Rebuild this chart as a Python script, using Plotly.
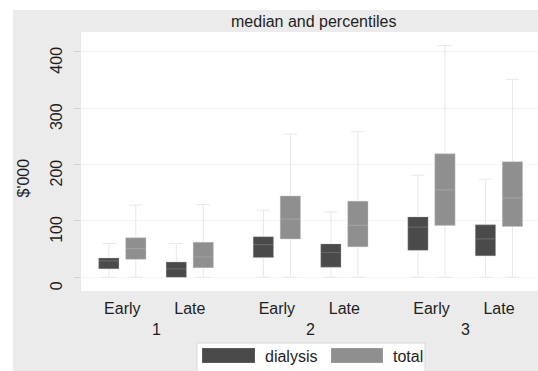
import plotly.graph_objects as go

groups = ["1", "2", "3"]
periods = ["Early", "Late"]
series = ["dialysis", "total"]

# order: 1-Early, 1-Late, 2-Early, 2-Late, 3-Early, 3-Late  ($'000)
dial_low = [0, 0, 0, 0, 0, 0]
dial_q1 = [15, 0, 35, 18, 48, 38]
dial_med = [29, 15, 58, 44, 89, 68]
dial_q3 = [34, 27, 72, 59, 107, 93]
dial_high = [60, 60, 119, 116, 181, 174]

tot_low = [0, 0, 0, 0, 0, 0]
tot_q1 = [32, 17, 68, 54, 92, 90]
tot_med = [51, 36, 103, 92, 155, 141]
tot_q3 = [70, 62, 144, 135, 219, 205]
tot_high = [128, 129, 254, 258, 411, 351]

y_ticks = [0, 100, 200, 300, 400]

DARK = "#4a4a4a"
LIGHT = "#8f8f8f"
WHISK = "#e8e8e8"

GROUP_GAP = 2.29
OFFSET = 0.2
BOXW = 0.3

centers = []
for gi, g in enumerate(groups):
    for pi, p in enumerate(periods):
        centers.append(gi * GROUP_GAP + pi * 1.0)

fig = go.Figure()

def add_series(name, off, low, q1, med, q3, high, fill):
    xs = [c + off for c in centers]
    # whiskers
    fig.add_trace(go.Box(x=xs, q1=q1, median=med, q3=q3, lowerfence=low, upperfence=high,
                         width=BOXW, whiskerwidth=0.65, fillcolor=fill,
                         line=dict(color=WHISK, width=1), showlegend=False,
                         name=name, hoverinfo="skip"))
    # box body
    fig.add_trace(go.Box(x=xs, q1=q1, median=med, q3=q3, lowerfence=q1, upperfence=q3,
                         width=BOXW, whiskerwidth=0, fillcolor=fill,
                         line=dict(color="rgba(255,255,255,0.16)", width=1.2),
                         showlegend=False, name=name))

add_series(series[0], -OFFSET, dial_low, dial_q1, dial_med, dial_q3, dial_high, DARK)
add_series(series[1], OFFSET, tot_low, tot_q1, tot_med, tot_q3, tot_high, LIGHT)

W, H = 538, 371
L, R, T, B = 81, 0, 32, 80
pw, ph = W - L - R, H - T - B

def px(xp):
    return (xp - L) / pw

def py(yp):
    return (H - B - yp) / ph

FONT = "Liberation Sans, Arial, Helvetica, sans-serif"
TXT = dict(size=16, color="#1e1e1e")

def ann(x, y, text, xref="paper", xanchor="center", angle=0):
    return dict(x=x, y=y, xref=xref, yref="paper", text=text, showarrow=False,
                xanchor=xanchor, yanchor="middle", textangle=angle, font=TXT)

annotations = []
for gi, g in enumerate(groups):
    annotations.append(ann(gi * GROUP_GAP + 0.5, py(329), g, xref="x"))
annotations.append(ann(px(23), py(178.5), "$'000", angle=-90))
annotations.append(ann(px(313), py(21), "median and percentiles"))
annotations.append(ann(px(263), py(356), series[0], xanchor="left"))
annotations.append(ann(px(391), py(356), series[1], xanchor="left"))

shapes = [
    dict(type="rect", xref="paper", yref="paper", x0=px(0), x1=px(W), y0=py(0), y1=py(10),
         fillcolor="white", line=dict(width=0), layer="below"),
    dict(type="rect", xref="paper", yref="paper", x0=px(0), x1=px(13), y0=py(0), y1=py(H),
         fillcolor="white", line=dict(width=0), layer="below"),
    dict(type="rect", xref="paper", yref="paper", x0=px(197), x1=px(425), y0=py(343), y1=py(372),
         fillcolor="white", line=dict(color="#d8d8d8", width=1)),
    dict(type="rect", xref="paper", yref="paper", x0=px(202), x1=px(255), y0=py(348), y1=py(363),
         fillcolor=DARK, line=dict(color="rgba(255,255,255,0.2)", width=1)),
    dict(type="rect", xref="paper", yref="paper", x0=px(331), x1=px(383), y0=py(348), y1=py(363),
         fillcolor=LIGHT, line=dict(color="rgba(255,255,255,0.2)", width=1)),
]

y_lo = -(291 - 277.3) / 0.564
y_hi = 400 + (51.7 - 32) / 0.564
x_lo = (81 - 122.3) / 67.5
x_hi = (538 - 122.3) / 67.5

fig.update_layout(
    width=W, height=H,
    margin=dict(l=L, r=R, t=T, b=B, pad=0),
    paper_bgcolor="#ebebeb",
    plot_bgcolor="white",
    font=dict(family=FONT, size=16, color="#1e1e1e"),
    showlegend=False,
    boxmode="overlay",
    annotations=annotations,
    shapes=shapes,
    xaxis=dict(range=[x_lo, x_hi], tickmode="array", tickvals=centers,
               ticktext=[p for g in groups for p in periods], showgrid=False,
               zeroline=False, ticks="", showline=False, tickfont=dict(size=16),
               ticklabelstandoff=6, automargin=False),
    yaxis=dict(range=[y_lo, y_hi], tickmode="array", tickvals=y_ticks,
               ticktext=[str(v) for v in y_ticks], tickangle=-90,
               showgrid=True, gridcolor="#f4f4f4", gridwidth=1, zeroline=False,
               ticks="outside", ticklen=6, tickcolor="#d0d0d0", showline=True,
               linecolor="#e8e8e8", tickfont=dict(size=16), ticklabelshift=11,
               ticklabelstandoff=6, automargin=False),
)

fig.write_html("out.html", config={"displayModeBar": False},
               post_script="document.body.style.margin='0';document.body.style.padding='0';")
